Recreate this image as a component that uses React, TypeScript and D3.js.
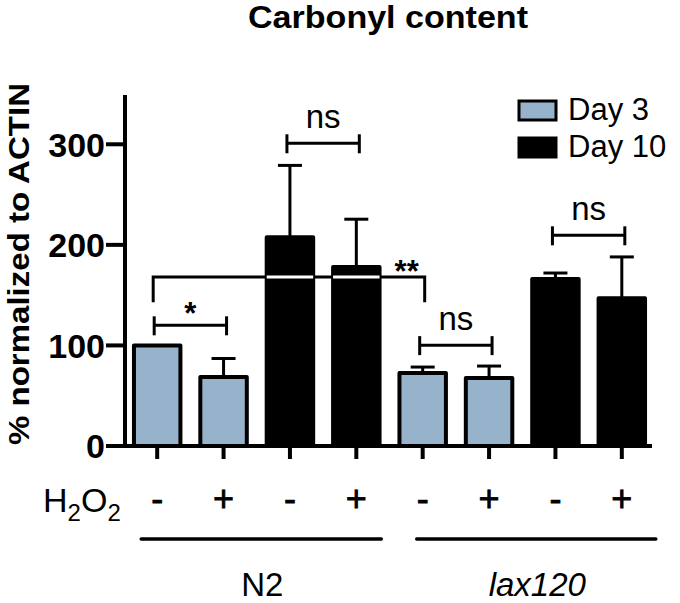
import React from "react";
import * as d3 from "d3";

const h2o2Signs = ["-", "+", "-", "+", "-", "+", "-", "+"];
const dayOfBar = ["Day 3", "Day 3", "Day 10", "Day 10", "Day 3", "Day 3", "Day 10", "Day 10"];
const meanValues = [100, 68.5, 207.5, 178, 72.5, 67.5, 166, 147];
const semValues = [0, 18.5, 71.5, 47.5, 6, 12, 6, 41];
const yTicks = [0, 100, 200, 300];
const legendItems = ["Day 3", "Day 10"];
const strains = ["N2", "lax120"];
const strainBars = [[0, 3], [4, 7]];
const brackets = [
  { from: 0, to: 1, level: 120, label: "*" },
  { from: 2, to: 3, level: 301, label: "ns" },
  { from: 4, to: 5, level: 100.3, label: "ns" },
  { from: 6, to: 7, level: 209.5, label: "ns" },
];
const longBracket = { from: 0, to: 4, level: 168, drop: 143, label: "**" };

const W = 680;
const H = 603;
const FONT = "'Liberation Sans', Arial, Helvetica, sans-serif";
const BLUE = "#97b2cb";

export default function App() {
  const x = d3
    .scaleBand<number>()
    .domain(d3.range(meanValues.length))
    .range([124, 655])
    .paddingInner(0.3)
    .paddingOuter(0.15);
  const y = d3.scaleLinear().domain([0, 350]).range([446, 94]);
  const cx = (i: number) => (x(i) as number) + x.bandwidth() / 2;
  const bw = x.bandwidth();
  const colorOf = (d: string) => (d === "Day 3" ? BLUE : "#000");

  const lb = longBracket;
  const lbY = y(lb.level);
  const lbX0 = cx(lb.from) - 4;
  const lbX1 = cx(lb.to) + 2;

  return (
    <svg
      width={W}
      height={H}
      style={{ position: "absolute", left: 0, top: 0, background: "#fff" }}
      fontFamily={FONT}
    >
      {/* Title */}
      <text x={388} y={28} textAnchor="middle" fontWeight="bold" fontSize={31} textLength={280} lengthAdjust="spacingAndGlyphs">
        Carbonyl content
      </text>

      {/* Y label */}
      <text
        transform="translate(29,264) rotate(-90)"
        textAnchor="middle"
        fontWeight="bold"
        fontSize={29}
        textLength={362}
        lengthAdjust="spacingAndGlyphs"
      >
        % normalized to ACTIN
      </text>

      {/* Bars */}
      {meanValues.map((v, i) => (
        <rect
          key={"b" + i}
          x={x(i) as number}
          y={y(v)}
          width={bw}
          height={y(0) - y(v)}
          fill={colorOf(dayOfBar[i])}
          stroke="#000"
          strokeWidth={4}
          strokeLinejoin="round"
        />
      ))}

      {/* Error bars */}
      {meanValues.map((v, i) =>
        semValues[i] > 0 ? (
          <g key={"e" + i} stroke="#000" strokeWidth={3}>
            <line x1={cx(i)} x2={cx(i)} y1={y(v)} y2={y(v + semValues[i])} />
            <line x1={cx(i) - 12} x2={cx(i) + 12} y1={y(v + semValues[i])} y2={y(v + semValues[i])} />
          </g>
        ) : null
      )}

      {/* Long bracket (**) */}
      <g stroke="#000" strokeWidth={3} fill="none">
        <path d={`M${lbX0},${y(lb.drop)}V${lbY}H${lbX1}V${y(lb.drop)}`} />
      </g>
      {meanValues.map((v, i) =>
        i > lb.from && i < lb.to && v > lb.level && dayOfBar[i] === "Day 10" ? (
          <line
            key={"w" + i}
            x1={x(i) as number}
            x2={(x(i) as number) + bw}
            y1={lbY}
            y2={lbY}
            stroke="#fff"
            strokeWidth={3}
          />
        ) : null
      )}
      <text x={cx(lb.to) - 16} y={lbY + 5} textAnchor="middle" fontWeight="bold" fontSize={31}>
        {lb.label}
      </text>

      {/* Significance brackets */}
      {brackets.map((b, k) => {
        const yy = y(b.level);
        const x0 = cx(b.from) - 3;
        const x1 = cx(b.to) + 3;
        const star = b.label.includes("*");
        return (
          <g key={"br" + k}>
            <g stroke="#000" strokeWidth={3}>
              <line x1={x0} x2={x1} y1={yy} y2={yy} />
              <line x1={x0} x2={x0} y1={yy - 9} y2={yy + 10} />
              <line x1={x1} x2={x1} y1={yy - 9} y2={yy + 10} />
            </g>
            <text
              x={(x0 + x1) / 2}
              y={star ? yy - 1 : yy - 15}
              textAnchor="middle"
              fontSize={star ? 31 : 33}
              fontWeight={star ? "bold" : "normal"}
            >
              {b.label}
            </text>
          </g>
        );
      })}

      {/* Y axis */}
      <g stroke="#000" strokeWidth={4}>
        <line x1={125} x2={125} y1={95} y2={448} />
        {yTicks.map((t) => (
          <line key={"yt" + t} x1={106} x2={125} y1={y(t)} y2={y(t)} />
        ))}
      </g>
      {yTicks.map((t) => (
        <text key={"yl" + t} x={105} y={y(t)} dy="0.36em" textAnchor="end" fontWeight="bold" fontSize={34}>
          {t}
        </text>
      ))}

      {/* X axis */}
      <g stroke="#000" strokeWidth={4}>
        <line x1={123} x2={652} y1={446} y2={446} />
        {meanValues.map((_, i) => (
          <line key={"xt" + i} x1={cx(i)} x2={cx(i)} y1={446} y2={459} />
        ))}
      </g>

      {/* H2O2 row */}
      <text x={43} y={512} fontSize={34}>
        H<tspan fontSize={24} dy={9}>2</tspan>
        <tspan dy={-9}>O</tspan>
        <tspan fontSize={24} dy={9}>2</tspan>
      </text>
      {h2o2Signs.map((s, i) => (
        <text key={"s" + i} x={cx(i)} y={511} textAnchor="middle" fontSize={36} stroke="#000" strokeWidth={0.8}>
          {s}
        </text>
      ))}

      {/* Strain underlines and labels */}
      {strains.map((s, k) => {
        const [a, b] = strainBars[k];
        const x0 = k === 0 ? cx(a) - 16 : cx(a) - 6;
        const x1 = k === 0 ? cx(b) + 25 : cx(b) + 34;
        return (
          <g key={"st" + k}>
            <line x1={x0} x2={x1} y1={539} y2={539} stroke="#000" strokeWidth={3.5} strokeLinecap="round" />
            <text
              x={(x0 + x1) / 2 + 1}
              y={596}
              textAnchor="middle"
              fontSize={33}
              fontStyle={k === 1 ? "italic" : "normal"}
            >
              {s}
            </text>
          </g>
        );
      })}

      {/* Legend */}
      {legendItems.map((d, k) => (
        <g key={"lg" + k}>
          <rect x={519} y={101 + k * 37} width={37} height={19} fill={colorOf(d)} stroke="#000" strokeWidth={3} />
          <text x={568} y={120 + k * 37} fontSize={31}>
            {d}
          </text>
        </g>
      ))}
    </svg>
  );
}
